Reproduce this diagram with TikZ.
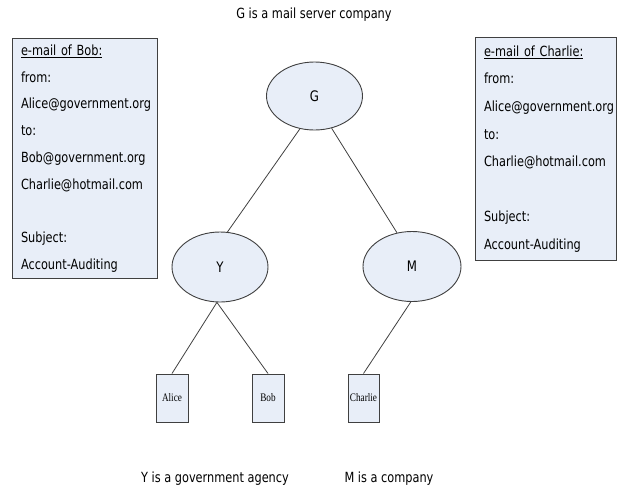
\documentclass[tikz,border=0pt]{standalone}
\usepackage{fontspec}
\setmainfont{DejaVu Sans}[FakeStretch=0.81]
\newfontfamily\boxserif{Liberation Serif}[FakeStretch=0.8]
\usetikzlibrary{shapes.geometric}

\definecolor{nodefill}{RGB}{232,238,248}
\definecolor{edgegray}{RGB}{64,64,64}

\tikzset{
  server/.style={ellipse, draw=edgegray, line width=0.9pt, fill=nodefill,
    inner sep=0pt, font=\fontsize{14.5}{16}\selectfont},
  person/.style={rectangle, draw=edgegray, line width=1pt, fill=nodefill,
    inner sep=0pt, minimum width=32pt, minimum height=48pt,
    font=\boxserif\fontsize{11.5}{13}\selectfont},
  mailbox/.style={rectangle, draw=edgegray, line width=1pt, fill=nodefill,
    align=left, inner xsep=8.5pt, inner ysep=0pt, anchor=north west},
  caption/.style={font=\fontsize{14}{16}\selectfont},
  link/.style={draw=edgegray, line width=0.8pt}
}

\begin{document}
\begin{tikzpicture}[x=1pt, y=-1pt]
  \useasboundingbox (0,0) rectangle (619,491);

  % captions
  \node[caption] (title) at (314,15) {G is a mail server company};
  \node[caption] (ycap) at (215,479) {Y is a government agency};
  \node[caption] (mcap) at (389,479) {M is a company};

  % mail servers
  \node[server, minimum width=96pt, minimum height=68pt] (G) at (314.5,96) {G};
  \node[server, minimum width=96pt, minimum height=70pt] (Y) at (220,267) {Y};
  \node[server, minimum width=98pt, minimum height=70pt] (M) at (412,266.5) {M};

  % users
  \node[person] (alice) at (172,398) {Alice};
  \node[person] (bob) at (268,398) {Bob};
  \node[person, minimum width=31pt] (charlie) at (363.5,398) {Charlie};

  % connections
  \draw[link] (G.246) -- (Y.78);
  \draw[link] (G.298) -- (M.114);
  \draw[link] (Y.265) -- (alice.north);
  \draw[link] (Y.265) -- (bob.north);
  \draw[link] (M.268) -- (charlie.north);

  % e-mail contents
  \node[mailbox, text width=128pt, minimum height=240pt,
        font=\fontsize{14}{26.75}\selectfont] (mailbob) at (12,38)
    {\underline{e-mail of Bob:}\\
     from:\\
     Alice@government.org\\
     to:\\
     Bob@government.org\\
     Charlie@hotmail.com\\[26.75pt]
     Subject:\\
     Account-Auditing};

  \node[mailbox, text width=124pt, minimum height=223pt,
        font=\fontsize{14}{27.6}\selectfont] (mailcharlie) at (475,37)
    {\underline{e-mail of Charlie:}\\
     from:\\
     Alice@government.org\\
     to:\\
     Charlie@hotmail.com\\[27.6pt]
     Subject:\\
     Account-Auditing};
\end{tikzpicture}
\end{document}
